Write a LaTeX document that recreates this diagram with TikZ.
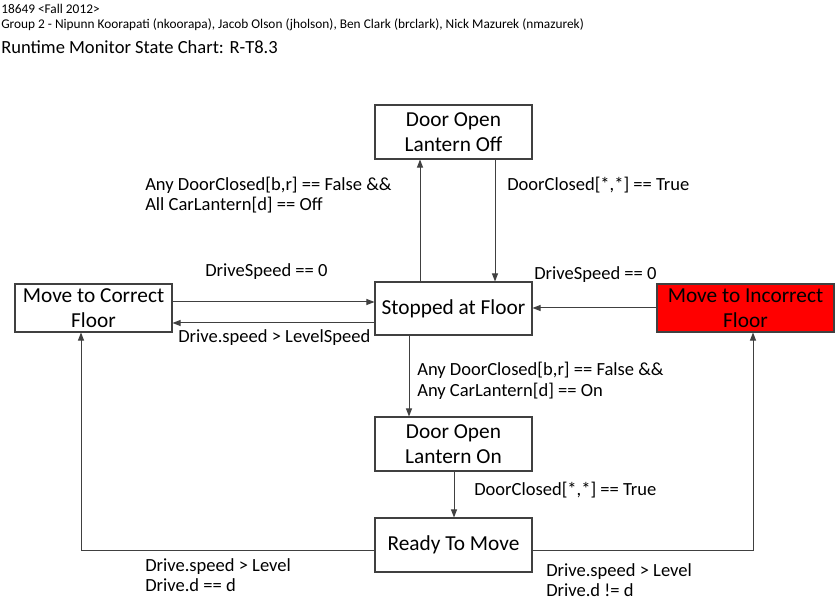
\documentclass[tikz,border=0pt]{standalone}
\usepackage{fontspec}
\setmainfont{Carlito}
\usetikzlibrary{arrows.meta}
\definecolor{ln}{HTML}{404040}
\begin{document}
\begin{tikzpicture}[x=0.75pt,y=-0.75pt,
  box/.style={draw=ln,line width=0.8pt,fill=white,minimum width=117.75pt,minimum height=40.5pt,inner sep=1pt,align=center,font=\fontsize{16}{18.75}\selectfont},
  arr/.style={draw=ln,line width=0.75pt,-{Triangle[length=6pt,width=4.5pt]}},
  lbl/.style={anchor=west,align=left,inner sep=0pt,font=\fontsize{13.9}{15.5}\selectfont},
  hdr/.style={anchor=west,inner sep=0pt}]
\useasboundingbox (0,0) rectangle (836,605);
% header
\node[hdr,font=\fontsize{10}{11}\selectfont] (h1) at (1,9) {18649 <Fall 2012>};
\node[hdr,font=\fontsize{10}{11}\selectfont] (h2) at (1,25) {Group 2 - Nipunn Koorapati (nkoorapa), Jacob Olson (jholson), Ben Clark (brclark), Nick Mazurek (nmazurek)};
\node[hdr,font=\fontsize{13.9}{15}\selectfont] (h3) at (1,47) {Runtime Monitor State Chart: R-T8.3};
% states
\node[box] (off) at (453.5,132) {Door Open\\Lantern Off};
\node[box,minimum height=39.75pt] (stop) at (453.5,308.5) {Stopped at Floor};
\node[box,minimum height=36pt] (corr) at (93.5,308) {Move to Correct\\Floor};
\node[box,minimum height=36pt,minimum width=132.75pt,fill=red] (inc) at (745.5,308) {Move to Incorrect\\Floor};
\node[box] (on) at (453.5,444) {Door Open\\Lantern On};
\node[box] (ready) at (453.5,545) {Ready To Move};
% helper coordinates
\coordinate (c420) at (420,0);
\coordinate (c495) at (495,0);
\coordinate (c409) at (409,0);
\coordinate (c454) at (454,0);
\coordinate (r302) at (0,302);
\coordinate (r323) at (0,323);
\coordinate (r308) at (0,308);
\coordinate (r551) at (0,551);
\coordinate (c81) at (81,0);
\coordinate (c753) at (753,0);
% connectors
\draw[arr] (stop.north -| c420) -- (off.south -| c420);
\draw[arr] (off.south -| c495) -- (stop.north -| c495);
\draw[arr] (corr.east |- r302) -- (stop.west |- r302);
\draw[arr] (stop.west |- r323) -- (corr.east |- r323);
\draw[arr] (inc.west |- r308) -- (stop.east |- r308);
\draw[arr] (stop.south -| c409) -- (on.north -| c409);
\draw[arr] (on.south -| c454) -- (ready.north -| c454);
\draw[arr] (ready.west |- r551) -| (corr.south -| c81);
\draw[arr] (ready.east |- r551) -| (inc.south -| c753);
% labels
\node[lbl] (l1) at (145,195) {Any DoorClosed[b,r] == False \&\&\\All CarLantern[d] == Off};
\node[lbl] (l2) at (507,185) {DoorClosed[*,*] == True};
\node[lbl] (l3) at (205,272) {DriveSpeed == 0};
\node[lbl] (l4) at (534,275) {DriveSpeed == 0};
\node[lbl] (l5) at (178,338) {Drive.speed > LevelSpeed};
\node[lbl] (l6) at (417,381) {Any DoorClosed[b,r] == False \&\&\\Any CarLantern[d] == On};
\node[lbl] (l7) at (474,490) {DoorClosed[*,*] == True};
\node[lbl] (l8) at (145,575) {Drive.speed > Level\\Drive.d == d};
\node[lbl] (l9) at (546,580) {Drive.speed > Level\\Drive.d != d};
\end{tikzpicture}
\end{document}
